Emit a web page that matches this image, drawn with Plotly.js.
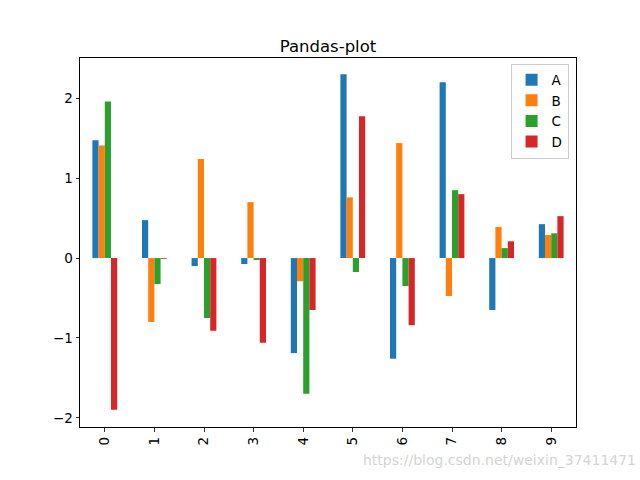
<!DOCTYPE html>
<html>
<head>
<meta charset="utf-8">
<script src="https://cdn.plot.ly/plotly-3.0.1.min.js"></script>
<style>
  html, body { margin: 0; padding: 0; background: #fff; }
  #chart { width: 640px; height: 480px; }
</style>
</head>
<body>
<div id="chart"></div>
<script>
// Data
const categories = ['0', '1', '2', '3', '4', '5', '6', '7', '8', '9'];
const seriesA = [1.475, 0.475, -0.10, -0.075, -1.19, 2.30, -1.26, 2.20, -0.65, 0.425];
const seriesB = [1.41, -0.80, 1.24, 0.70, -0.29, 0.76, 1.44, -0.475, 0.39, 0.29];
const seriesC = [1.96, -0.325, -0.75, -0.025, -1.70, -0.175, -0.35, 0.85, 0.125, 0.31];
const seriesD = [-1.90, -0.01, -0.91, -1.06, -0.65, 1.775, -0.84, 0.80, 0.21, 0.525];
const yTicks = [-2, -1, 0, 1, 2];

const names = ['A', 'B', 'C', 'D'];
const values = [seriesA, seriesB, seriesC, seriesD];
const colors = ['#1f77b4', '#ff7f0e', '#2ca02c', '#d62728'];

const traces = names.map((nm, i) => ({
    type: 'bar',
    name: nm,
    x: categories,
    y: values[i],
    marker: { color: colors[i], line: { width: 0 } }
}));

const axisCommon = {
    showline: true, mirror: true, linecolor: '#000', linewidth: 1,
    ticks: 'outside', ticklen: 3.5, tickwidth: 0.8, tickcolor: '#000',
    showgrid: false, zeroline: false,
    tickfont: { family: 'DejaVu Sans', size: 13.5, color: '#000' }
};

const layout = {
    width: 640, height: 480,
    paper_bgcolor: '#fff', plot_bgcolor: '#fff',
    margin: { l: 80, r: 64, t: 57.6, b: 52.8 },
    font: { family: 'DejaVu Sans', color: '#000' },
    title: {
        text: 'Pandas-plot',
        font: { family: 'DejaVu Sans', size: 16.5, color: '#000' },
        x: 0.5, xref: 'paper', y: 1, yref: 'paper', yanchor: 'bottom', pad: { b: 6 }
    },
    barmode: 'group', bargap: 0.5, bargroupgap: 0,
    xaxis: {
        ...axisCommon,
        type: 'category',
        range: [-0.5, 9.5],
        tickangle: -90
    },
    yaxis: {
        ...axisCommon,
        range: [-2.115, 2.505],
        tickvals: yTicks
    },
    showlegend: true,
    legend: {
        x: 0.985, y: 0.985, xanchor: 'right', yanchor: 'top',
        bgcolor: 'rgba(255,255,255,0.8)', bordercolor: '#ccc', borderwidth: 1,
        font: { family: 'DejaVu Sans', size: 13.5, color: '#000' },
        itemwidth: 30, tracegroupgap: 0
    },
    annotations: [{
        text: 'https://blog.csdn.net/weixin_37411471',
        xref: 'paper', yref: 'paper', x: 1.125, y: -0.09,
        xanchor: 'right', yanchor: 'middle', showarrow: false,
        font: { family: 'DejaVu Sans', size: 14, color: 'rgba(200,200,200,0.8)' }
    }]
};

Plotly.newPlot('chart', traces, layout, { displayModeBar: false, staticPlot: true });
</script>
</body>
</html>
